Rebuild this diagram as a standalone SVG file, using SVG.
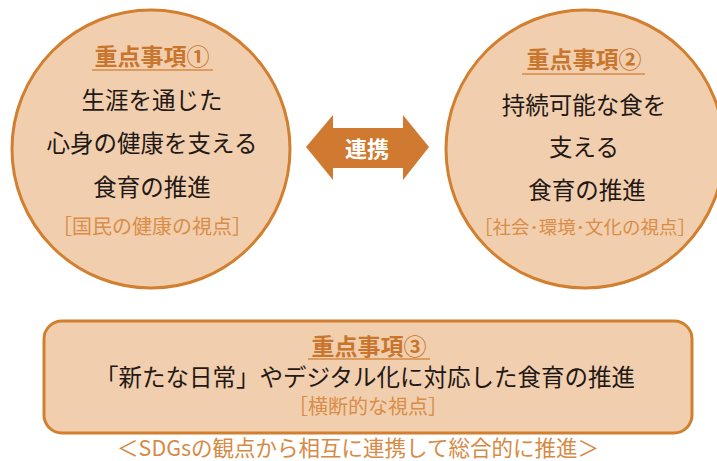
<svg xmlns="http://www.w3.org/2000/svg" width="717" height="461" viewBox="0 0 717 461">
<style>
.node{fill:#f1cfae;stroke:#d27f30;stroke-width:3}
text{font-family:"Noto Sans CJK JP","Noto Sans",sans-serif;text-anchor:middle}
.ttl{font-size:23px;font-weight:bold;fill:#c9752d}
.body{font-size:23.5px;fill:#231815}
.br{font-size:20px;fill:#d98d48}
.ul{stroke:#d68a45;stroke-width:1.6}
.cap{font-size:21.5px;fill:#d68a45}
</style>
<rect width="717" height="461" fill="#ffffff"/>
<g id="node1">
<circle class="node" cx="151" cy="149" r="139"/>
<text class="ttl" x="152" y="65">重点事項①</text>
<line class="ul" x1="92" y1="70" x2="213" y2="70"/>
<text class="body" x="152" y="109">生涯を通じた</text>
<text class="body" x="152" y="152">心身の健康を支える</text>
<text class="body" x="152" y="196">食育の推進</text>
<text class="br" x="152" y="234">［国民の健康の視点］</text>
</g>
<g id="node2">
<circle class="node" cx="585" cy="149" r="139"/>
<text class="ttl" x="584" y="68">重点事項②</text>
<line class="ul" x1="522" y1="74" x2="645" y2="74"/>
<text class="body" x="584" y="114">持続可能な食を</text>
<text class="body" x="584" y="156">支える</text>
<text class="body" x="587" y="199">食育の推進</text>
<text class="br" x="585" y="234" style="font-size:18.5px">［社会･環境･文化の視点］</text>
</g>
<g id="node3">
<rect class="node" x="44" y="321" width="648" height="112" rx="18" ry="18"/>
<text class="ttl" x="369" y="355">重点事項③</text>
<line class="ul" x1="308" y1="359" x2="430" y2="359"/>
<text class="body" x="365" y="386">「新たな日常」やデジタル化に対応した食育の推進</text>
<text class="br" x="368" y="414">［横断的な視点］</text>
</g>
<g id="connectors">
<polygon points="306,147 333,115 333,128 403,128 403,115 429,147 403,180 403,168 333,168 333,180" fill="#cf7a30"/>
<text x="367" y="157" style="font-size:22px;font-weight:bold;fill:#ffffff">連携</text>
</g>
<text class="cap" x="358" y="456">＜SDGsの観点から相互に連携して総合的に推進＞</text>
</svg>
